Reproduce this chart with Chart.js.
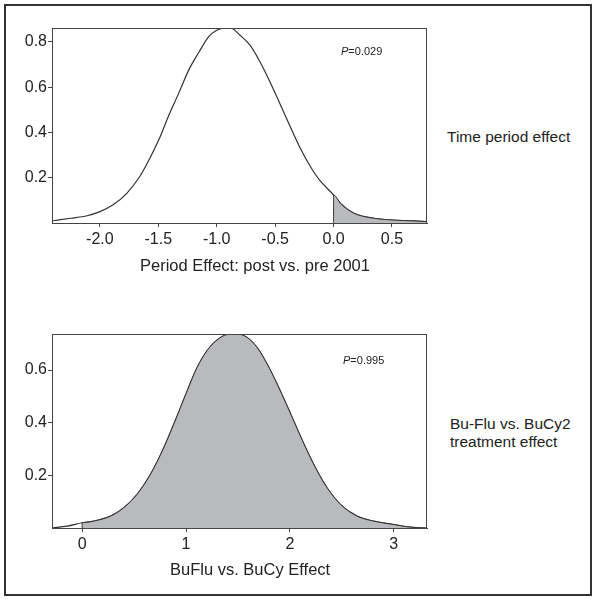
<!DOCTYPE html>
<html>
<head>
<meta charset="utf-8">
<script src="https://cdn.jsdelivr.net/npm/chart.js@4.4.1/dist/chart.umd.min.js"></script>
<style>
  body { margin: 0; background: #fff; font-family: "Liberation Sans", Arial, sans-serif; color: #222; }
  #frame { position: absolute; left: 4px; top: 4px; width: 588px; height: 592px; border: 2px solid #333; box-sizing: border-box; }
  canvas { position: absolute; left: 0; }
  .side { position: absolute; font-size: 15.5px; line-height: 18px; color: #222; }
  .axt { position: absolute; font-size: 16.5px; line-height: 20px; color: #222; white-space: nowrap; }
  .pval { position: absolute; font-size: 11px; line-height: 14px; color: #222; }
</style>
</head>
<body>
<div id="frame"></div>
<canvas id="periodChart" width="440" height="290" style="top:0px"></canvas>
<canvas id="treatChart" width="440" height="290" style="top:300px"></canvas>
<div class="pval" style="left:341px; top:44px"><i>P</i>=0.029</div>
<div class="pval" style="left:343px; top:353px"><i>P</i>=0.995</div>
<div class="axt" style="left:140px; top:255px">Period Effect: post vs. pre 2001</div>
<div class="axt" style="left:170px; top:559px">BuFlu vs. BuCy Effect</div>
<div class="side" style="left:447px; top:128px">Time period effect</div>
<div class="side" style="left:450px; top:415px">Bu-Flu vs. BuCy2<br>treatment effect</div>

<script>
// posterior density, period effect (post vs. pre 2001)
const periodX = [-2.40, -2.25, -2.11, -2.00, -1.89, -1.77, -1.66, -1.58, -1.49, -1.41, -1.32, -1.24, -1.15, -1.07, -1.00, -0.93, -0.88, -0.80, -0.715, -0.63, -0.545, -0.46, -0.376, -0.291, -0.206, -0.121, 0.0, 0.062, 0.175, 0.345, 0.514, 0.684, 0.80];
const periodY = [0.010, 0.021, 0.032, 0.050, 0.079, 0.131, 0.204, 0.278, 0.374, 0.476, 0.579, 0.675, 0.756, 0.822, 0.851, 0.860, 0.860, 0.829, 0.785, 0.712, 0.624, 0.528, 0.432, 0.337, 0.256, 0.190, 0.124, 0.085, 0.043, 0.021, 0.013, 0.009, 0.006];
const periodXTicks = [-2.0, -1.5, -1.0, -0.5, 0.0, 0.5];
const periodYTicks = [0.2, 0.4, 0.6, 0.8];
const periodCut = 0; // shaded tail starts here

// posterior density, BuFlu vs. BuCy treatment effect
const treatX = [-0.29, -0.144, 0.0, 0.144, 0.273, 0.401, 0.529, 0.658, 0.786, 0.914, 1.011, 1.107, 1.203, 1.299, 1.396, 1.492, 1.588, 1.684, 1.781, 1.877, 1.973, 2.069, 2.166, 2.262, 2.358, 2.486, 2.647, 2.807, 3.00, 3.16, 3.32];
const treatY = [0.0, 0.007, 0.020, 0.029, 0.045, 0.077, 0.128, 0.204, 0.305, 0.425, 0.521, 0.610, 0.674, 0.714, 0.735, 0.737, 0.724, 0.686, 0.623, 0.547, 0.464, 0.378, 0.293, 0.217, 0.153, 0.090, 0.045, 0.026, 0.013, 0.003, 0.0];
const treatXTicks = [0, 1, 2, 3];
const treatYTicks = [0.2, 0.4, 0.6];
const treatCut = 0;

const LINE = '#333';
const SHADE = '#b9babd';
const FONT = "'Liberation Sans', Arial, sans-serif";

// box round the plot area
const boxPlugin = {
  id: 'box',
  afterDraw(chart) {
    const { ctx, chartArea: a } = chart;
    ctx.save();
    ctx.strokeStyle = '#444';
    ctx.lineWidth = 1;
    ctx.strokeRect(a.left + 0.5, a.top + 0.5, a.right - a.left - 1, a.bottom - a.top);
    ctx.restore();
  }
};

function pts(xs, ys) {
  return xs.map((x, i) => ({ x: x, y: ys[i] }));
}

// area right of the cut, closed down to the axis
function tailOf(points, cut) {
  return [{ x: cut, y: 0 }].concat(points.filter(p => p.x >= cut));
}

function makeChart(id, opts) {
  const ctx = document.getElementById(id).getContext('2d');
  return new Chart(ctx, {
    type: 'line',
    data: { datasets: opts.datasets },
    options: {
      responsive: false,
      animation: false,
      layout: { padding: { top: opts.padTop, right: 13, left: 0, bottom: 0 } },
      plugins: { legend: { display: false }, tooltip: { enabled: false } },
      elements: { point: { radius: 0 }, line: { cubicInterpolationMode: 'monotone' } },
      scales: {
        x: {
          type: 'linear',
          min: opts.xMin, max: opts.xMax,
          afterBuildTicks: s => { s.ticks = opts.xTicks.map(v => ({ value: v })); },
          afterFit: s => { s.height = opts.xAxisH; },
          ticks: { color: '#222', font: { family: FONT, size: 16 }, padding: 3, maxRotation: 0,
                   callback: v => v.toFixed(opts.xDec) },
          grid: { drawOnChartArea: false, drawTicks: true, tickLength: 4, color: '#444' },
          border: { display: true, color: '#444' }
        },
        y: {
          min: 0, max: opts.yMax,
          afterBuildTicks: s => { s.ticks = opts.yTicks.map(v => ({ value: v })); },
          afterFit: s => { s.width = 52; },
          ticks: { color: '#222', font: { family: FONT, size: 16 }, padding: 1,
                   callback: v => v.toFixed(1) },
          grid: { drawOnChartArea: false, drawTicks: true, tickLength: 4, color: '#444' },
          border: { display: true, color: '#444' }
        }
      }
    },
    plugins: [boxPlugin]
  });
}

const periodPts = pts(periodX, periodY);
makeChart('periodChart', {
  padTop: 28, xAxisH: 67,
  xMin: -2.41, xMax: 0.80, yMax: 0.861,
  xTicks: periodXTicks, yTicks: periodYTicks, xDec: 1,
  datasets: [
    { data: tailOf(periodPts, periodCut), borderColor: LINE, borderWidth: 1, backgroundColor: SHADE, fill: 'origin' },
    { data: periodPts, borderColor: LINE, borderWidth: 1.2, fill: false }
  ]
});

const treatPts = pts(treatX, treatY);
makeChart('treatChart', {
  padTop: 34, xAxisH: 62,
  xMin: -0.29, xMax: 3.32, yMax: 0.737,
  xTicks: treatXTicks, yTicks: treatYTicks, xDec: 0,
  datasets: [
    { data: tailOf(treatPts, treatCut), borderColor: LINE, borderWidth: 1, backgroundColor: SHADE, fill: 'origin' },
    { data: treatPts, borderColor: LINE, borderWidth: 1.2, fill: false }
  ]
});
</script>
</body>
</html>
